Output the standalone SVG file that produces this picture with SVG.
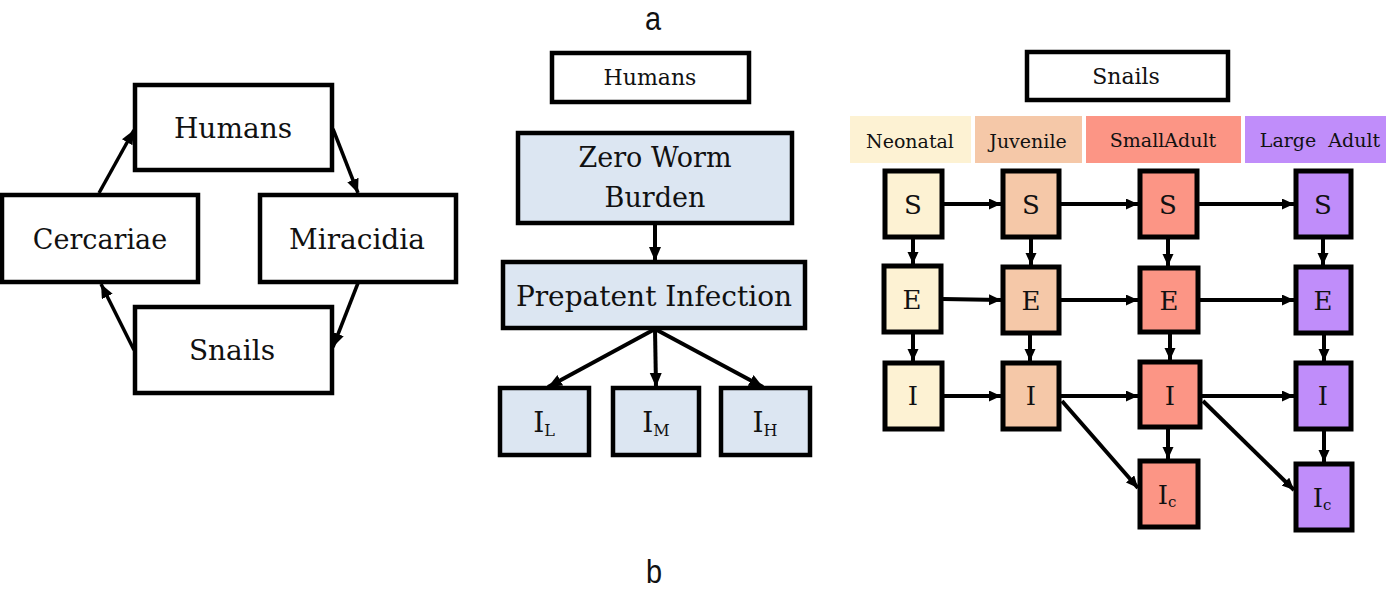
<svg xmlns="http://www.w3.org/2000/svg" width="1386" height="591" viewBox="0 0 1386 591">
<style>
.bx{fill:#fff;stroke:#000;stroke-width:4.5}
.bl{fill:#dce6f2;stroke:#000;stroke-width:4.5}
.sq{stroke:#000;stroke-width:5}
.t{font-family:"DejaVu Serif","Liberation Serif",serif;fill:#111;text-anchor:middle}
.lab{font-family:"Liberation Sans",Arial,sans-serif;fill:#111;text-anchor:middle;font-size:34px}
.ln{stroke:#000;stroke-width:3.5;fill:none}
.ln4{stroke:#000;stroke-width:4;fill:none}
.neo{fill:#fdf2d3}.juv{fill:#f5c8a8}.sad{fill:#fc9585}.lad{fill:#c08dfa}
</style>
<defs>
<marker id="ah" markerUnits="userSpaceOnUse" markerWidth="16" markerHeight="14" refX="14" refY="6" orient="auto">
<path d="M0,0 L14,6 L0,12 z" fill="#000"/>
</marker>
<marker id="ahs" markerUnits="userSpaceOnUse" markerWidth="14" markerHeight="14" refX="12" refY="5.5" orient="auto">
<path d="M0,0 L12,5.5 L0,11 z" fill="#000"/>
</marker>
</defs>

<text class="lab" transform="translate(653,30) scale(0.85,1)">a</text>
<text class="lab" transform="translate(654,583) scale(0.85,1)">b</text>

<!-- Left panel -->
<g id="l-humans"><rect class="bx" x="135" y="85" width="197" height="85"/><text class="t" x="233" y="138" font-size="28">Humans</text></g>
<g id="l-cercariae"><rect class="bx" x="2" y="195" width="196" height="87"/><text class="t" x="100" y="249" font-size="27">Cercariae</text></g>
<g id="l-miracidia"><rect class="bx" x="260" y="195" width="196" height="87"/><text class="t" x="357" y="249" font-size="28">Miracidia</text></g>
<g id="l-snails"><rect class="bx" x="135" y="307" width="197" height="86"/><text class="t" x="232" y="360" font-size="28">Snails</text></g>

<!-- Middle panel -->
<g id="m-humans"><rect class="bx" x="552" y="53" width="197" height="49"/><text class="t" x="650" y="85" font-size="22">Humans</text></g>
<g id="m-zero"><rect class="bl" x="518" y="133" width="274" height="90"/><text class="t" x="655" y="167" font-size="27">Zero Worm</text><text class="t" x="655" y="207" font-size="27">Burden</text></g>
<g id="m-prep"><rect class="bl" x="503" y="262" width="302" height="66"/><text class="t" x="654" y="306" font-size="28">Prepatent Infection</text></g>
<g id="m-il"><rect class="bl" x="500" y="388" width="89" height="67"/><text class="t" x="544" y="432" font-size="28">I<tspan font-size="16" dy="4">L</tspan></text></g>
<g id="m-im"><rect class="bl" x="613" y="388" width="86" height="67"/><text class="t" x="656" y="432" font-size="28">I<tspan font-size="16" dy="4">M</tspan></text></g>
<g id="m-ih"><rect class="bl" x="721" y="388" width="89" height="67"/><text class="t" x="765" y="432" font-size="28">I<tspan font-size="16" dy="4">H</tspan></text></g>

<!-- Right panel -->
<g id="r-snails"><rect class="bx" x="1027" y="52" width="201" height="48"/><text class="t" x="1126" y="84" font-size="22">Snails</text></g>
<g id="band-neo"><rect class="neo" x="850" y="116" width="121" height="47"/><text class="t" x="910" y="148" font-size="19">Neonatal</text></g>
<g id="band-juv"><rect class="juv" x="975" y="116" width="107" height="47"/><text class="t" x="1028" y="148" font-size="19">Juvenile</text></g>
<g id="band-sad"><rect class="sad" x="1086" y="116" width="155" height="47"/><text class="t" x="1163" y="147" font-size="19">SmallAdult</text></g>
<g id="band-lad"><rect class="lad" x="1245" y="116" width="141" height="47"/><text class="t" x="1320" y="147" font-size="19" xml:space="preserve">Large  Adult</text></g>

<g id="neo-s"><rect class="sq neo" x="885" y="171" width="57" height="66"/><text class="t" x="913" y="214" font-size="26">S</text></g>
<g id="neo-e"><rect class="sq neo" x="884" y="266" width="57" height="66"/><text class="t" x="912" y="309" font-size="26">E</text></g>
<g id="neo-i"><rect class="sq neo" x="885" y="363" width="57" height="66"/><text class="t" x="913" y="405" font-size="26">I</text></g>

<g id="juv-s"><rect class="sq juv" x="1003" y="171" width="56" height="66"/><text class="t" x="1031" y="214" font-size="26">S</text></g>
<g id="juv-e"><rect class="sq juv" x="1003" y="267" width="56" height="66"/><text class="t" x="1031" y="310" font-size="26">E</text></g>
<g id="juv-i"><rect class="sq juv" x="1003" y="363" width="56" height="66"/><text class="t" x="1031" y="405" font-size="26">I</text></g>

<g id="sad-s"><rect class="sq sad" x="1140" y="171" width="57" height="66"/><text class="t" x="1168" y="214" font-size="26">S</text></g>
<g id="sad-e"><rect class="sq sad" x="1140" y="268" width="58" height="64"/><text class="t" x="1169" y="310" font-size="26">E</text></g>
<g id="sad-i"><rect class="sq sad" x="1140" y="362" width="60" height="65"/><text class="t" x="1170" y="405" font-size="26">I</text></g>
<g id="sad-ic"><rect class="sq sad" x="1140" y="461" width="58" height="66"/><text class="t" x="1167" y="504" font-size="26">I<tspan font-size="15" dy="3">c</tspan></text></g>

<g id="lad-s"><rect class="sq lad" x="1296" y="171" width="55" height="66"/><text class="t" x="1323" y="214" font-size="26">S</text></g>
<g id="lad-e"><rect class="sq lad" x="1296" y="267" width="55" height="66"/><text class="t" x="1323" y="310" font-size="26">E</text></g>
<g id="lad-i"><rect class="sq lad" x="1296" y="363" width="55" height="66"/><text class="t" x="1323" y="405" font-size="26">I</text></g>
<g id="lad-ic"><rect class="sq lad" x="1296" y="464" width="56" height="66"/><text class="t" x="1322" y="507" font-size="26">I<tspan font-size="15" dy="3">c</tspan></text></g>

<g id="connectors">
<line class="ln" x1="99" y1="193" x2="134" y2="130" marker-end="url(#ah)"/>
<line class="ln" x1="333" y1="129" x2="358" y2="193" marker-end="url(#ah)"/>
<line class="ln" x1="358" y1="283" x2="333" y2="347" marker-end="url(#ah)"/>
<line class="ln" x1="134" y1="350" x2="101" y2="284" marker-end="url(#ah)"/>
<line class="ln4" x1="655" y1="224" x2="655" y2="261" marker-end="url(#ah)"/>
<line class="ln4" x1="655" y1="329" x2="548" y2="387" marker-end="url(#ah)"/>
<line class="ln4" x1="655" y1="329" x2="656" y2="387" marker-end="url(#ah)"/>
<line class="ln4" x1="655" y1="329" x2="763" y2="387" marker-end="url(#ah)"/>
<line class="ln4" x1="944" y1="204" x2="1001" y2="204" marker-end="url(#ahs)"/>
<line class="ln4" x1="1061" y1="204" x2="1138" y2="204" marker-end="url(#ahs)"/>
<line class="ln4" x1="1199" y1="204" x2="1294" y2="204" marker-end="url(#ahs)"/>
<line class="ln4" x1="943" y1="299" x2="1001" y2="300" marker-end="url(#ahs)"/>
<line class="ln4" x1="1061" y1="300" x2="1138" y2="300" marker-end="url(#ahs)"/>
<line class="ln4" x1="1200" y1="300" x2="1294" y2="300" marker-end="url(#ahs)"/>
<line class="ln4" x1="944" y1="396" x2="1001" y2="396" marker-end="url(#ahs)"/>
<line class="ln4" x1="1061" y1="396" x2="1138" y2="396" marker-end="url(#ahs)"/>
<line class="ln4" x1="1202" y1="396" x2="1294" y2="396" marker-end="url(#ahs)"/>
<line class="ln4" x1="913" y1="239" x2="913" y2="264" marker-end="url(#ahs)"/>
<line class="ln4" x1="913" y1="334" x2="913" y2="361" marker-end="url(#ahs)"/>
<line class="ln4" x1="1031" y1="239" x2="1031" y2="265" marker-end="url(#ahs)"/>
<line class="ln4" x1="1030" y1="335" x2="1030" y2="361" marker-end="url(#ahs)"/>
<line class="ln4" x1="1168" y1="239" x2="1168" y2="266" marker-end="url(#ahs)"/>
<line class="ln4" x1="1170" y1="334" x2="1170" y2="360" marker-end="url(#ahs)"/>
<line class="ln4" x1="1168" y1="429" x2="1168" y2="459" marker-end="url(#ahs)"/>
<line class="ln4" x1="1323" y1="239" x2="1323" y2="265" marker-end="url(#ahs)"/>
<line class="ln4" x1="1324" y1="335" x2="1324" y2="361" marker-end="url(#ahs)"/>
<line class="ln4" x1="1324" y1="431" x2="1324" y2="462" marker-end="url(#ahs)"/>
<line class="ln4" x1="1062" y1="401" x2="1138" y2="488" marker-end="url(#ahs)"/>
<line class="ln4" x1="1203" y1="401" x2="1294" y2="490" marker-end="url(#ahs)"/>
</g>
</svg>
